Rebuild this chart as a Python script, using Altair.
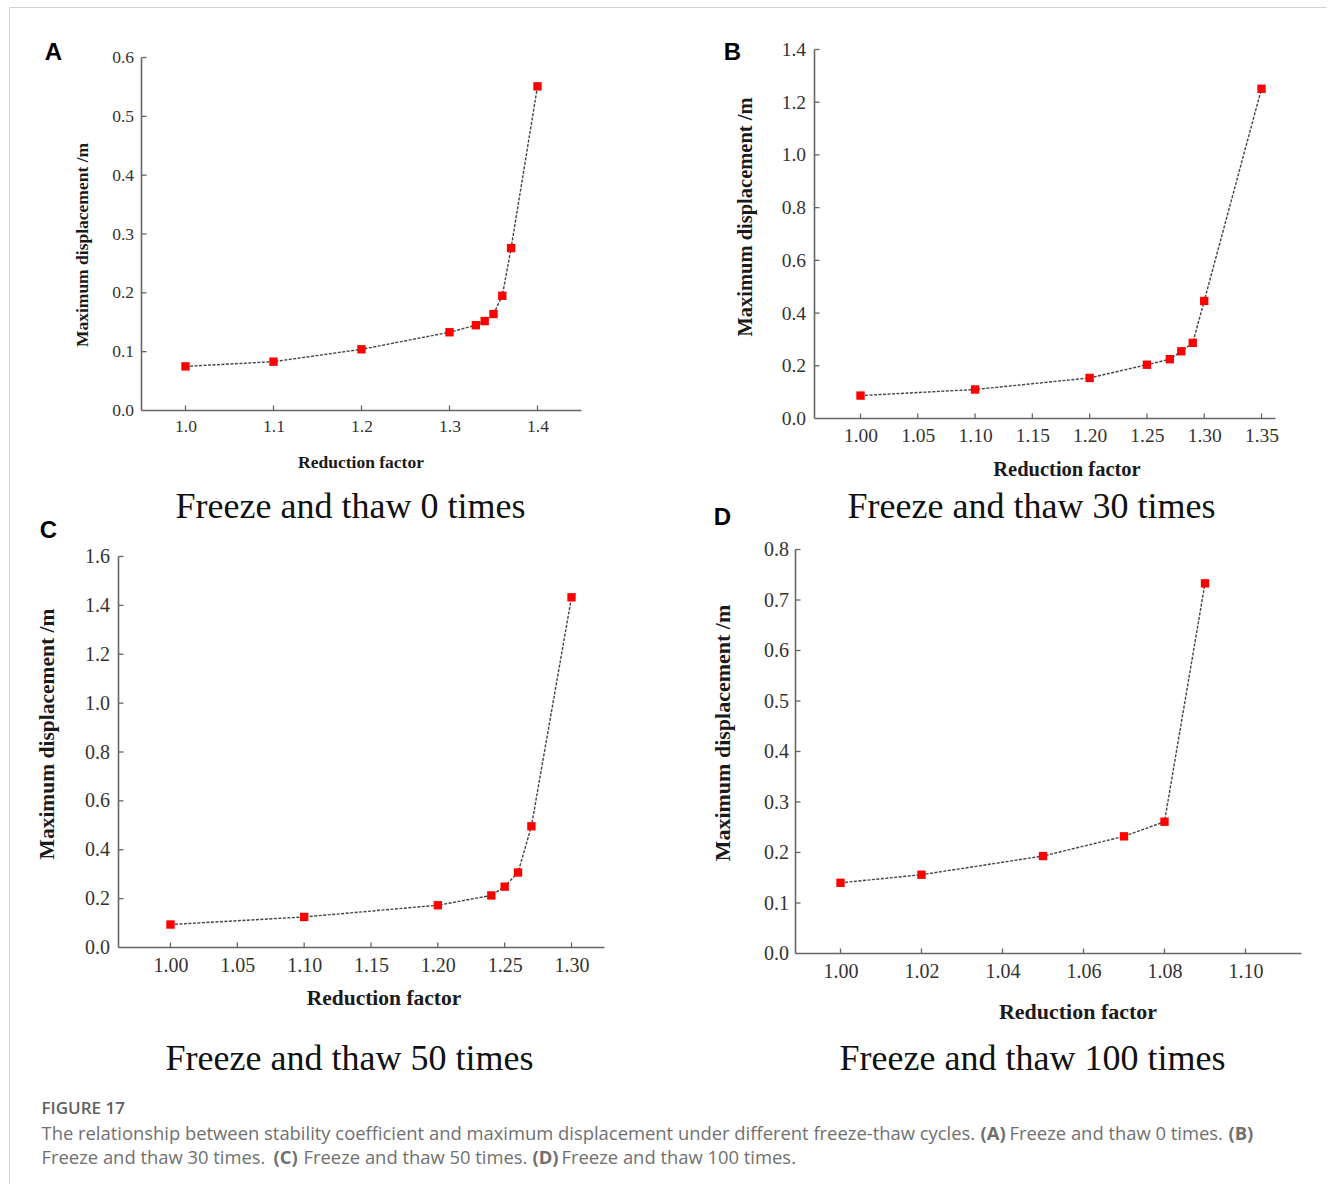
import altair as alt
import pandas as pd

# ---- data: reduction factor vs. maximum displacement (m) ----
rf_0 = [1.00, 1.10, 1.20, 1.30, 1.33, 1.34, 1.35, 1.36, 1.37, 1.40]
disp_0 = [0.075, 0.083, 0.104, 0.133, 0.145, 0.152, 0.164, 0.195, 0.276, 0.551]

rf_30 = [1.00, 1.10, 1.20, 1.25, 1.27, 1.28, 1.29, 1.30, 1.35]
disp_30 = [0.087, 0.110, 0.154, 0.204, 0.225, 0.255, 0.287, 0.446, 1.251]

rf_50 = [1.00, 1.10, 1.20, 1.24, 1.25, 1.26, 1.27, 1.30]
disp_50 = [0.094, 0.125, 0.173, 0.213, 0.249, 0.307, 0.496, 1.433]

rf_100 = [1.00, 1.02, 1.05, 1.07, 1.08, 1.09]
disp_100 = [0.140, 0.156, 0.193, 0.232, 0.261, 0.733]

# ---- tick values ----
xt_0 = [1.0, 1.1, 1.2, 1.3, 1.4]
yt_0 = [0.0, 0.1, 0.2, 0.3, 0.4, 0.5, 0.6]
xt_30 = [1.00, 1.05, 1.10, 1.15, 1.20, 1.25, 1.30, 1.35]
yt_30 = [0.0, 0.2, 0.4, 0.6, 0.8, 1.0, 1.2, 1.4]
xt_50 = [1.00, 1.05, 1.10, 1.15, 1.20, 1.25, 1.30]
yt_50 = [0.0, 0.2, 0.4, 0.6, 0.8, 1.0, 1.2, 1.4, 1.6]
xt_100 = [1.00, 1.02, 1.04, 1.06, 1.08, 1.10]
yt_100 = [0.0, 0.1, 0.2, 0.3, 0.4, 0.5, 0.6, 0.7, 0.8]

titles = ["Freeze and thaw 0 times", "Freeze and thaw 30 times",
          "Freeze and thaw 50 times", "Freeze and thaw 100 times"]
letters = ["A", "B", "C", "D"]

SERIF = "Liberation Serif"
SANS = "Liberation Sans"
CAP_FONT = "Open Sans"
AXIS_COLOR = "#666666"
LABEL_COLOR = "#333333"

# every panel sits in a cell of the same size; the axes frame is placed inside it
CELL_W, CELL_H = 507, 410
COL_GAP, ROW_GAP = 170, 90

# page-pixel layout of each panel
layout = [
    dict(cell=(118, 46), frame=(141, 581, 410, 57), xanchor=((1.0, 185), (1.4, 537)),
         fmt=".1f", lfs=17.5, tfs=17.5, ytfs=17.5, lpx=7, lpy=8,
         xtitle=(360, 467), ytitle=(82, 244), letter=(53, 52), title=(350, 517)),
    dict(cell=(795, 46), frame=(814, 1275, 418, 49), xanchor=((1.00, 860), (1.35, 1261)),
         fmt=".2f", lfs=19.5, tfs=20.5, ytfs=20.5, lpx=8, lpy=9,
         xtitle=(1066, 475), ytitle=(745, 216), letter=(732, 52), title=(1031, 517)),
    dict(cell=(118, 546), frame=(118, 604, 947, 556), xanchor=((1.00, 170), (1.30, 571)),
         fmt=".2f", lfs=20, tfs=21.5, ytfs=21.5, lpx=8, lpy=9,
         xtitle=(383, 1004), ytitle=(47, 733), letter=(48, 530), title=(349, 1069)),
    dict(cell=(795, 546), frame=(795, 1301, 953, 549), xanchor=((1.00, 840), (1.10, 1245)),
         fmt=".2f", lfs=20, tfs=22, ytfs=22, lpx=8, lpy=7,
         xtitle=(1077, 1018), ytitle=(722, 732), letter=(722, 517), title=(1032, 1069)),
]

series = [(rf_0, disp_0, xt_0, yt_0), (rf_30, disp_30, xt_30, yt_30),
          (rf_50, disp_50, xt_50, yt_50), (rf_100, disp_100, xt_100, yt_100)]


def text_layer(txt, x, y, font, size, weight="normal", color="#000000",
               align="center", baseline="alphabetic"):
    return alt.Chart(pd.DataFrame({"t": [txt]})).mark_text(
        font=font, fontSize=size, fontWeight=weight, color=color,
        align=align, baseline=baseline
    ).encode(x=alt.value(x), y=alt.value(y), text="t:N")


def panel(i):
    rf, disp, xticks, yticks = series[i]
    L = layout[i]
    cx0, cy0 = L["cell"]
    fl, fr, fb, ft = L["frame"]
    (v1, p1), (v2, p2) = L["xanchor"]
    ppx = (p2 - p1) / (v2 - v1)
    ymax = yticks[-1]
    ppy = (fb - ft) / ymax

    xs = alt.Scale(domain=[v1 + (cx0 - p1) / ppx, v1 + (cx0 + CELL_W - p1) / ppx],
                   nice=False, zero=False)
    ys = alt.Scale(domain=[-(cy0 + CELL_H - fb) / ppy, (fb - cy0) / ppy],
                   nice=False, zero=False)

    fl_r, fb_r = fl - cx0, fb - cy0

    xaxis = alt.Axis(values=xticks, format=L["fmt"], orient="bottom",
                     offset=-(cy0 + CELL_H - fb), domain=False, ticks=False, grid=False,
                     labelFont=SERIF, labelFontSize=L["lfs"], labelColor=LABEL_COLOR,
                     labelPadding=L["lpx"], labelFlush=False, labelOverlap=False,
                     title="Reduction factor", titleFont=SERIF, titleFontSize=L["tfs"],
                     titleFontWeight="bold", titleColor="#1a1a1a",
                     titleX=L["xtitle"][0] - cx0, titleY=L["xtitle"][1] - fb,
                     titleAlign="center", titleBaseline="alphabetic")
    yaxis = alt.Axis(values=yticks, format=".1f", orient="left",
                     offset=-(fl - cx0), domain=False, ticks=False, grid=False,
                     labelFont=SERIF, labelFontSize=L["lfs"], labelColor=LABEL_COLOR,
                     labelPadding=L["lpy"], labelFlush=False, labelOverlap=False,
                     title="Maximum displacement /m", titleFont=SERIF,
                     titleFontSize=L["ytfs"], titleFontWeight="bold", titleColor="#1a1a1a",
                     titleX=L["ytitle"][0] - fl, titleY=L["ytitle"][1] - cy0,
                     titleAngle=270, titleAlign="center", titleBaseline="middle")

    def X(field):
        return alt.X(field, scale=xs, axis=xaxis)

    def Y(field):
        return alt.Y(field, scale=ys, axis=yaxis)

    df = pd.DataFrame({"x": rf, "y": disp})

    line = alt.Chart(df).mark_line(color="#444444", strokeWidth=1.4,
                                   strokeDash=[3, 1.5]).encode(x=X("x:Q"), y=Y("y:Q"))
    pts = alt.Chart(df).mark_square(color="#ff0000", size=70, opacity=1).encode(
        x=X("x:Q"), y=Y("y:Q"))

    # axis lines drawn over the frame extent only
    x_lo = v1 + (fl - p1) / ppx
    x_hi = v1 + (fr - p1) / ppx
    xline = alt.Chart(pd.DataFrame({"x": [x_lo], "x2": [x_hi]})).mark_rule(
        color=AXIS_COLOR, strokeWidth=1.6).encode(
        x=X("x:Q"), x2="x2:Q", y=alt.value(fb_r))
    yline = alt.Chart(pd.DataFrame({"y": [0.0], "y2": [ymax]})).mark_rule(
        color=AXIS_COLOR, strokeWidth=1.6).encode(
        y=Y("y:Q"), y2="y2:Q", x=alt.value(fl_r))

    # inward tick marks
    xtk = alt.Chart(pd.DataFrame({"x": xticks})).mark_rule(
        color=AXIS_COLOR, strokeWidth=1.3).encode(
        x=X("x:Q"), y=alt.value(fb_r - 5), y2=alt.value(fb_r))
    ytk = alt.Chart(pd.DataFrame({"y": yticks[1:]})).mark_rule(
        color=AXIS_COLOR, strokeWidth=1.3).encode(
        y=Y("y:Q"), x=alt.value(fl_r), x2=alt.value(fl_r + 5))

    lx, ly = L["letter"]
    tx, ty = L["title"]
    letter = text_layer(letters[i], lx - cx0, ly - cy0, SANS, 24, weight="bold",
                        baseline="middle")
    title = text_layer(titles[i], tx - cx0, ty - cy0, SERIF, 36, color="#111111")

    layers = [line, pts, xline, yline, xtk, ytk, letter, title]

    if i == 0:
        # thin page frame along the top and left edges
        frame_l = alt.Chart(pd.DataFrame({"k": [0]})).mark_rule(
            color="#d2d2d2", strokeWidth=1).encode(
            x=alt.value(9 - cx0), y=alt.value(7 - cy0), y2=alt.value(1184 - cy0))
        frame_t = alt.Chart(pd.DataFrame({"k": [0]})).mark_rule(
            color="#d2d2d2", strokeWidth=1).encode(
            x=alt.value(9 - cx0), x2=alt.value(1326 - cx0), y=alt.value(7 - cy0))
        layers = layers + [frame_l, frame_t]

    if i == 2:
        cap = "#707070"
        layers.append(text_layer("FIGURE 17", 41 - cx0, 1108 - cy0, CAP_FONT, 17,
                                 weight=600, color="#5f5f5f", align="left",
                                 baseline="middle"))
        segs = [
            ("The relationship between stability coefficient and maximum displacement "
             "under different freeze-thaw cycles.", 41, 1133, "normal"),
            ("(A)", 980, 1133, "bold"),
            ("Freeze and thaw 0 times.", 1009, 1133, "normal"),
            ("(B)", 1228, 1133, "bold"),
            ("Freeze and thaw 30 times.", 41, 1157, "normal"),
            ("(C)", 273, 1157, "bold"),
            ("Freeze and thaw 50 times.", 303, 1157, "normal"),
            ("(D)", 532, 1157, "bold"),
            ("Freeze and thaw 100 times.", 561, 1157, "normal"),
        ]
        for txt, sx, sy, w in segs:
            layers.append(text_layer(txt, sx - cx0, sy - cy0, CAP_FONT, 18.4, weight=w,
                                     color=cap, align="left", baseline="middle"))

    return alt.layer(*layers).properties(width=CELL_W, height=CELL_H)


chart = alt.concat(
    panel(0), panel(1), panel(2), panel(3),
    columns=2, spacing={"row": ROW_GAP, "column": COL_GAP},
    bounds="flush", align="all",
).properties(
    padding={"left": 8.5, "top": 6.5, "right": 0, "bottom": 0},
    background="white",
).configure_view(stroke="transparent")

chart.save("out.html", embed_options={"renderer": "svg", "actions": False})
